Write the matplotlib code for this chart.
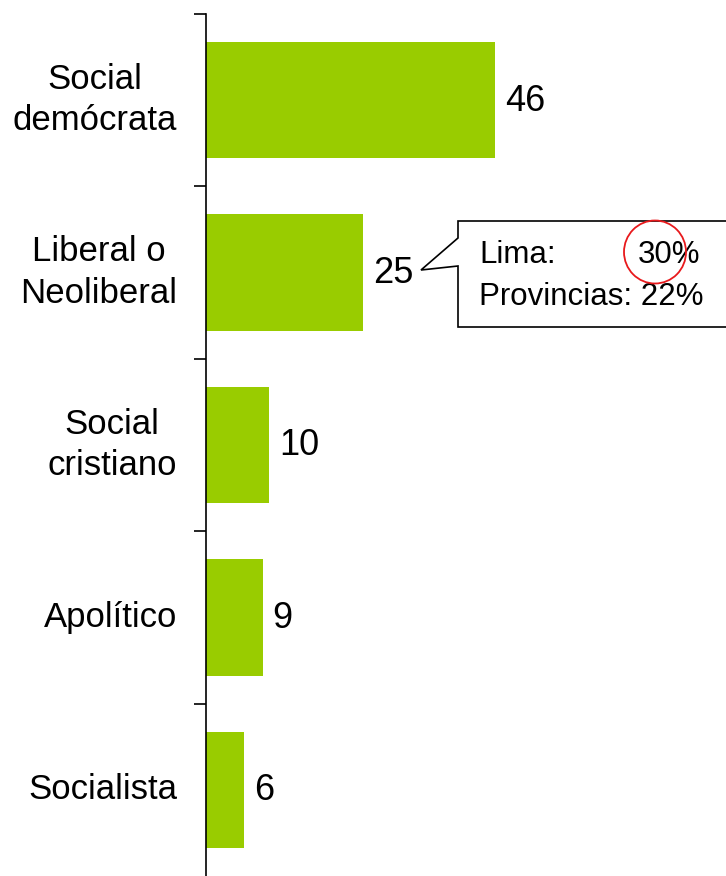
import matplotlib
matplotlib.use("Agg")
import matplotlib.pyplot as plt
from matplotlib.patches import Polygon, Ellipse

plt.rcParams['font.family'] = ['Liberation Sans', 'DejaVu Sans']

categories = ["Social\ndemócrata", "Liberal o\nNeoliberal", "Social\ncristiano", "Apolítico", "Socialista"]
values = [46, 25, 10, 9, 6]
callout_lines = ["Lima:", "Provincias: 22%"]
callout_lima_value = "30%"

W, H = 726, 876
fig = plt.figure(figsize=(W / 100, H / 100), dpi=100)
ax = fig.add_axes([206 / W, 0, 1 - 206 / W, 862 / H])

y = list(range(len(categories)))
ax.barh(y, values, height=0.675, color="#99CC00", zorder=2)
ax.set_xlim(0, 82.8)
ax.set_ylim(len(categories) - 0.5, -0.5)

for s in ["top", "right", "bottom"]:
    ax.spines[s].set_visible(False)
ax.spines["left"].set_linewidth(1.2)
ax.set_xticks([])
ax.set_yticks([i - 0.5 for i in range(len(categories))])
ax.set_yticklabels([])
ax.tick_params(axis="y", direction="out", length=8.6, width=1.2)

for i, (c, v) in enumerate(zip(categories, values)):
    ax.annotate(c, xy=(0, i), xycoords="data", xytext=(-29, 0), textcoords="offset pixels",
                ha="right", va="center", multialignment="center", fontsize=25,
                linespacing=1.33, annotation_clip=False)
    ax.annotate(str(v), xy=(v, i), xycoords="data", xytext=(10, -1), textcoords="offset pixels",
                ha="left", va="center", fontsize=26)

# callout box (figure pixel coordinates, y from top)
def px(xp, yp):
    return (xp / W, 1 - yp / H)

pts = [px(458, 221), px(740, 221), px(740, 327), px(458, 327), px(458, 266), px(421, 270), px(458, 238)]
fig.patches.append(Polygon(pts, closed=True, transform=fig.transFigure, facecolor="white",
                           edgecolor="black", linewidth=1.2, zorder=5))
fig.text(*px(479, 263), callout_lines[0], fontsize=22.5, ha="left", va="baseline", zorder=6)
fig.text(*px(638, 263), callout_lima_value, fontsize=22.5, ha="left", va="baseline", zorder=6)
fig.text(*px(479, 305), callout_lines[1], fontsize=22.5, ha="left", va="baseline", zorder=6)
fig.patches.append(Ellipse(px(655, 252), 62 / W, 63 / H, transform=fig.transFigure,
                           facecolor="none", edgecolor="#E8191C", linewidth=1.3, zorder=7))

fig.savefig("out.png", dpi=100)
